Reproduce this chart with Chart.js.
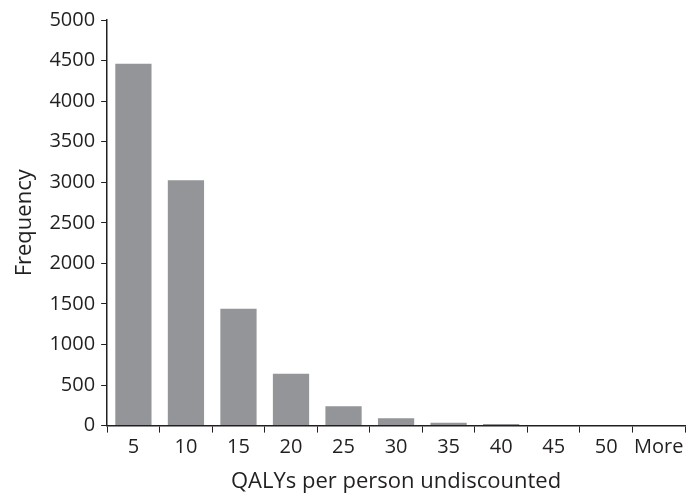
<!DOCTYPE html>
<html>
<head>
  <meta charset="UTF-8" />
  <title>QALYs per person undiscounted</title>
  <script src="https://cdn.jsdelivr.net/npm/chart.js"></script>
  <style>
    body {
      margin: 0;
      background: #fff;
    }
    #wrap {
      width: 688px;
      height: 498px;
    }
  </style>
</head>
<body>
  <div id="wrap"><canvas id="histChart" width="688" height="498"></canvas></div>

  <script>
    // histogram bins and counts
    const bins = ['5', '10', '15', '20', '25', '30', '35', '40', '45', '50', 'More'];
    const frequency = [4460, 3025, 1440, 640, 240, 90, 35, 20, 0, 0, 0];
    const yTicks = [0, 500, 1000, 1500, 2000, 2500, 3000, 3500, 4000, 4500, 5000];

    const ink = '#231f20';
    const fontFamily = "'Open Sans', 'Noto Sans', sans-serif";

    new Chart(document.getElementById('histChart'), {
      type: 'bar',
      data: {
        labels: bins,
        datasets: [{
          label: 'Frequency',
          data: frequency,
          backgroundColor: '#939598',
          borderWidth: 0,
          barPercentage: 0.69,
          categoryPercentage: 1.0
        }]
      },
      options: {
        responsive: false,
        animation: false,
        devicePixelRatio: 1,
        layout: { padding: { top: 20, right: 3, left: 12, bottom: 3 } },
        plugins: {
          legend: { display: false },
          tooltip: { enabled: false }
        },
        scales: {
          x: {
            grid: {
              drawOnChartArea: false,
              drawTicks: true,
              tickLength: 7,
              color: ink,
              offset: true
            },
            border: { display: true, color: ink, width: 1.5 },
            ticks: {
              color: ink,
              font: { family: fontFamily, size: 20 },
              padding: 3,
              maxRotation: 0,
              autoSkip: false
            },
            title: {
              display: true,
              text: 'QALYs per person undiscounted',
              color: ink,
              font: { family: fontFamily, size: 22 },
              padding: { top: 6, bottom: 0 }
            }
          },
          y: {
            min: 0,
            max: 5000,
            afterBuildTicks: axis => {
              axis.ticks = yTicks.map(v => ({ value: v }));
            },
            grid: {
              drawOnChartArea: false,
              drawTicks: true,
              tickLength: 6,
              color: ink
            },
            border: { display: true, color: ink, width: 1.5 },
            ticks: {
              color: ink,
              font: { family: fontFamily, size: 20 },
              padding: 6,
              callback: v => String(v)
            },
            title: {
              display: true,
              text: 'Frequency',
              color: ink,
              font: { family: fontFamily, size: 22 },
              padding: { top: 0, bottom: 5 }
            }
          }
        }
      }
    });
  </script>
</body>
</html>
